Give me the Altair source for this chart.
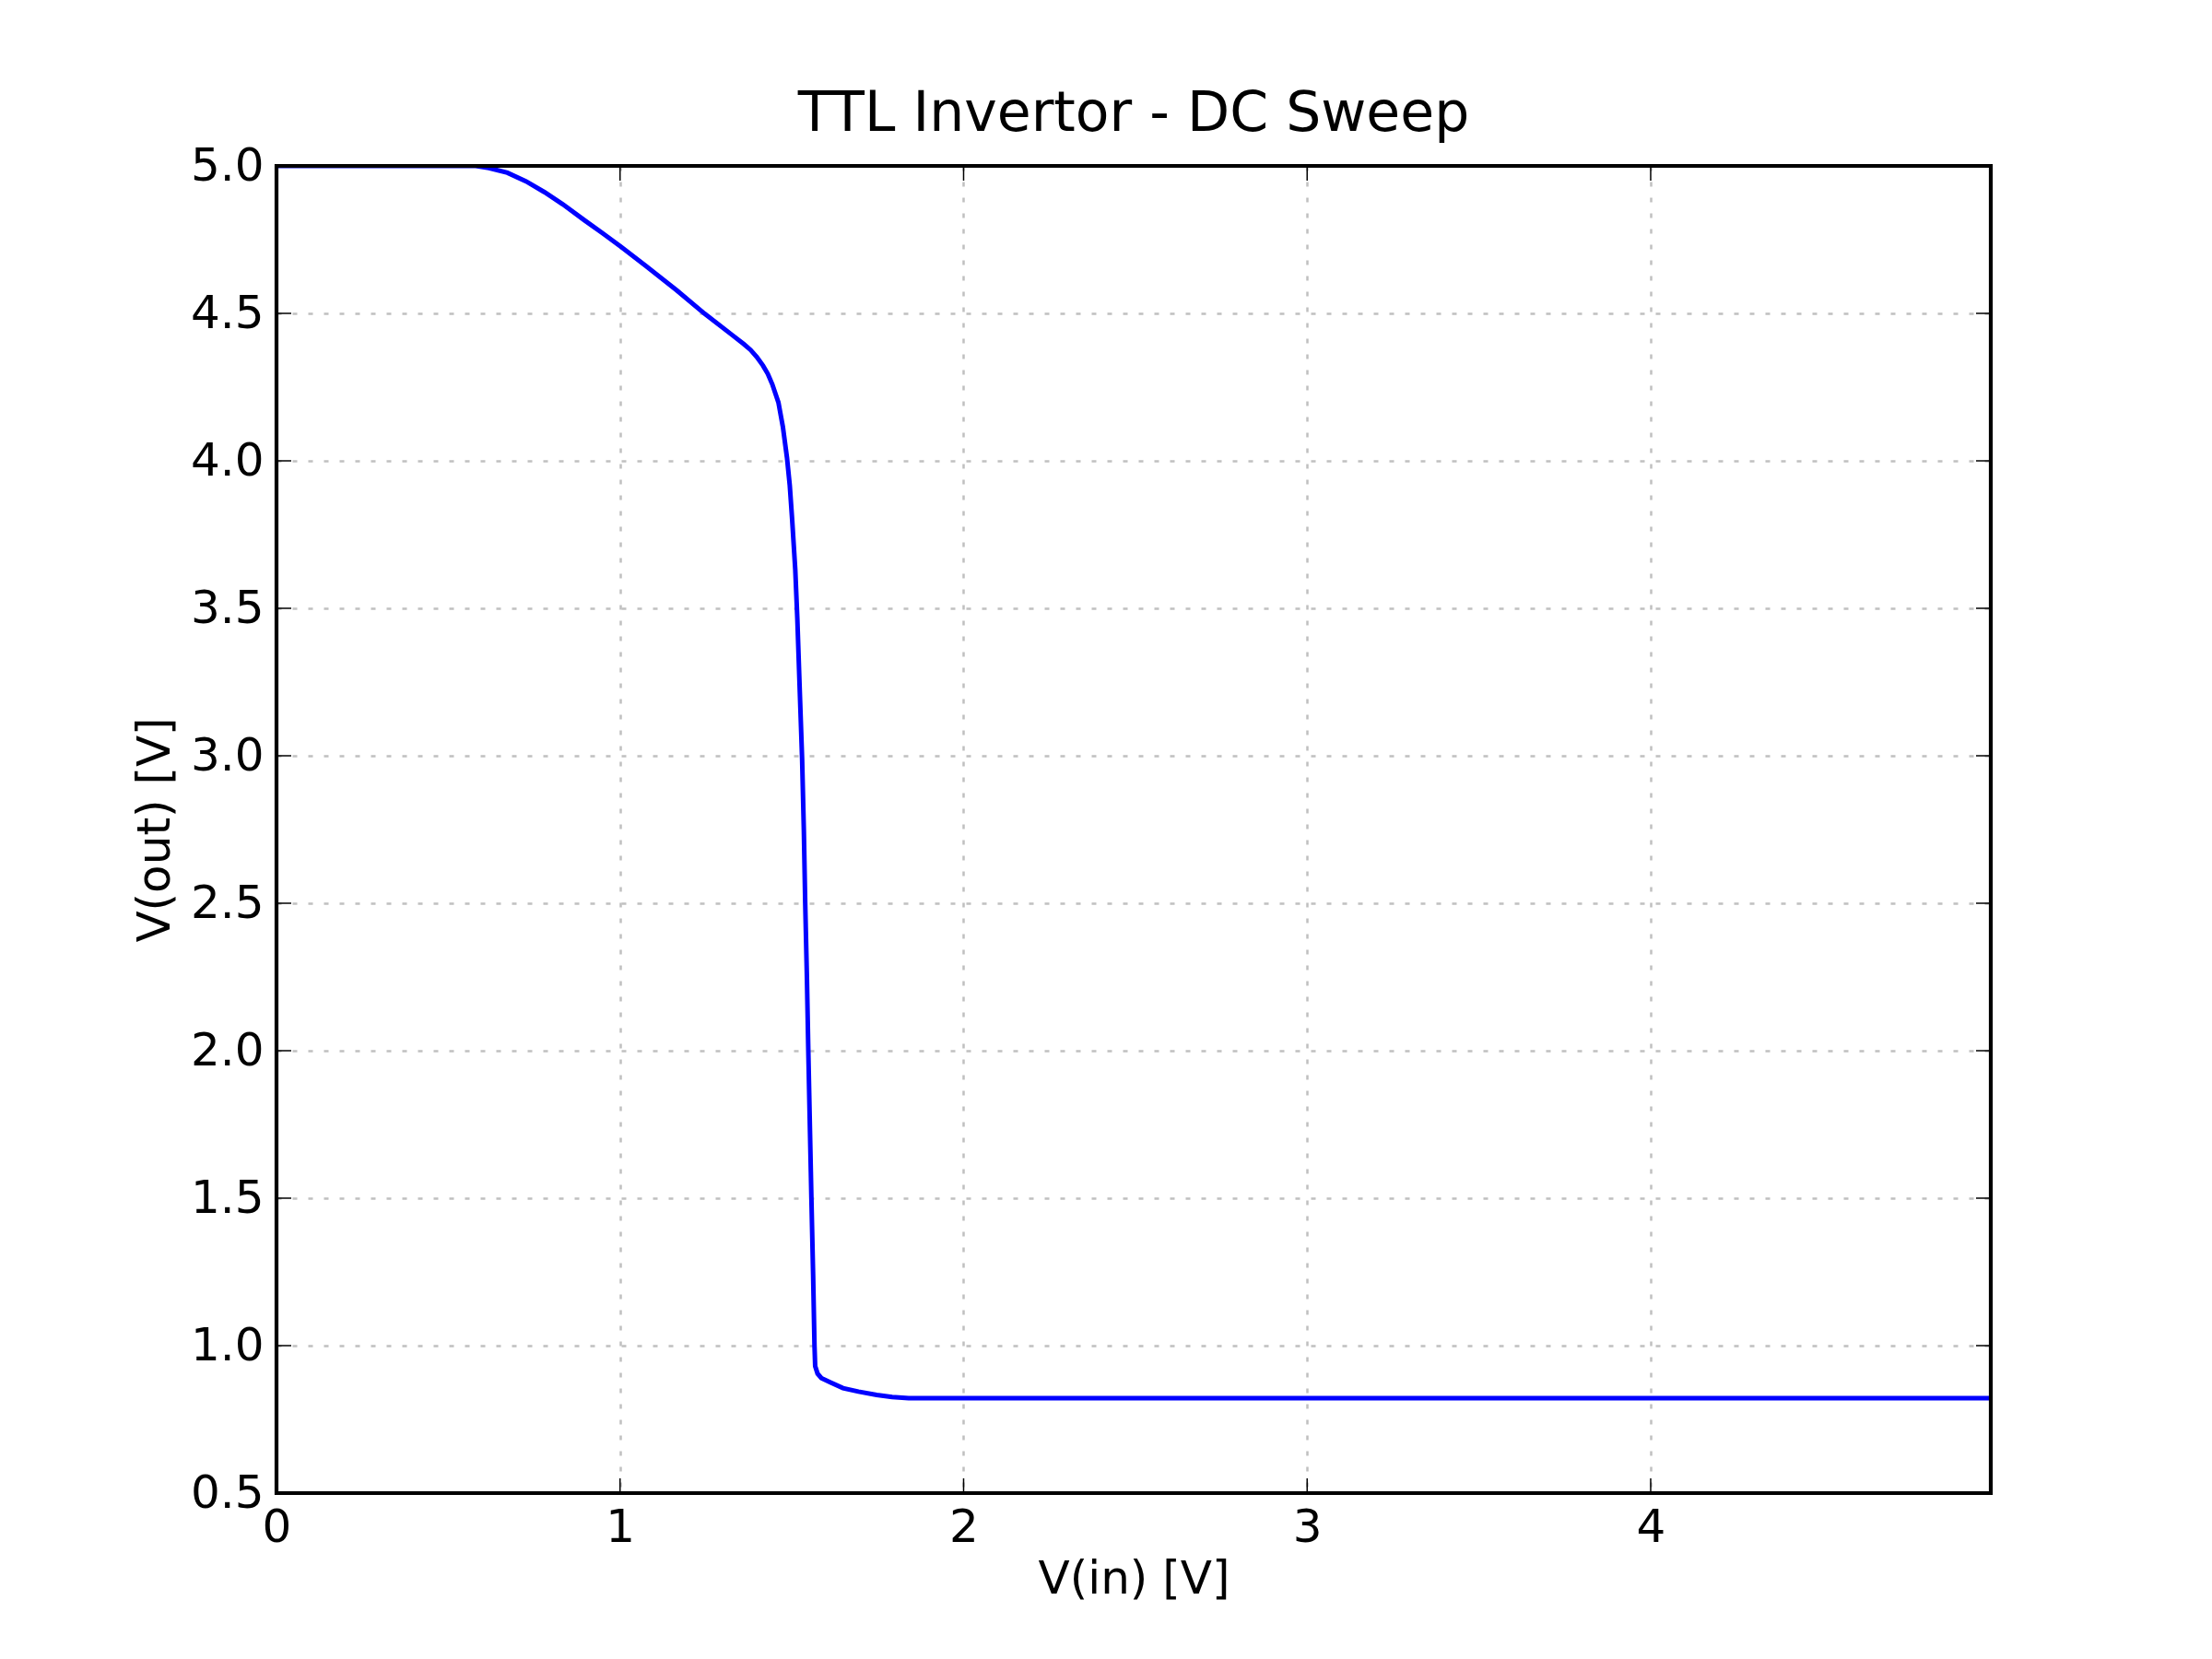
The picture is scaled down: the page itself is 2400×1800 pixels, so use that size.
import altair as alt
import pandas as pd

# ---- data ----
vin = [0.0, 0.3, 0.58, 0.618, 0.672, 0.726, 0.780, 0.833, 0.896, 0.950, 1.001,
       1.075, 1.165, 1.246, 1.326, 1.360, 1.380, 1.398, 1.416, 1.430, 1.443,
       1.461, 1.474, 1.486, 1.494, 1.501, 1.510, 1.516, 1.523, 1.530, 1.535,
       1.539, 1.544, 1.548, 1.553, 1.557, 1.562, 1.566, 1.568, 1.575, 1.586,
       1.613, 1.649, 1.694, 1.747, 1.792, 1.84, 2.0, 3.0, 4.0, 4.99]
vout = [5.0, 5.0, 5.0, 4.993, 4.977, 4.948, 4.911, 4.870, 4.816, 4.771, 4.727,
        4.661, 4.578, 4.499, 4.427, 4.396, 4.376, 4.352, 4.323, 4.295, 4.26,
        4.198, 4.115, 4.01, 3.917, 3.80, 3.632, 3.466, 3.225, 2.988, 2.747,
        2.50, 2.245, 2.00, 1.72, 1.50, 1.24, 1.00, 0.93, 0.905, 0.89,
        0.875, 0.856, 0.844, 0.833, 0.826, 0.822, 0.822, 0.822, 0.822, 0.822]
x_ticks = [0, 1, 2, 3, 4]
y_ticks = [0.5, 1.0, 1.5, 2.0, 2.5, 3.0, 3.5, 4.0, 4.5, 5.0]
title_text = "TTL Invertor - DC Sweep"
x_title = "V(in) [V]"
y_title = "V(out) [V]"

FONT = "DejaVu Sans"

df = pd.DataFrame({"vin": vin, "vout": vout})
xt = pd.DataFrame({"t": x_ticks})
yt = pd.DataFrame({"t": y_ticks})
frame_df = pd.DataFrame({"k": [0]})

xscale = alt.Scale(domain=[0, 4.99], nice=False, zero=False)
yscale = alt.Scale(domain=[0.5, 5.0], nice=False, zero=False)

common_axis = dict(
    grid=True, gridColor="#c0c0c0", gridDash=[5, 12], gridWidth=2.5,
    ticks=False, domain=False,
    labelFontSize=50, labelFont=FONT, labelColor="black",
    labelFlush=False, labelOverlap=False,
    titleFontSize=50, titleFont=FONT, titleFontWeight="normal", titleColor="black",
)
x_axis = alt.Axis(values=x_ticks, format="d", title=x_title, labelPadding=12,
                  titlePadding=6, **common_axis)
y_axis = alt.Axis(values=y_ticks, format=".1f", title=y_title, labelPadding=14,
                  titlePadding=13, **common_axis)

line = alt.Chart(df).mark_line(color="#0000ff", strokeWidth=5, clip=True).encode(
    x=alt.X("vin:Q", scale=xscale, axis=x_axis),
    y=alt.Y("vout:Q", scale=yscale, axis=y_axis),
)

TL = 16
TW = 1.5
ytick_l = alt.Chart(yt).mark_rule(color="black", strokeWidth=TW).encode(
    y=alt.Y("t:Q", scale=yscale, axis=y_axis), x=alt.value(0), x2=alt.value(TL))
ytick_r = alt.Chart(yt).mark_rule(color="black", strokeWidth=TW, xOffset=-TL).encode(
    y=alt.Y("t:Q", scale=yscale, axis=y_axis), x=alt.value("width"), x2=alt.value("width"))
xtick_b = alt.Chart(xt).mark_rule(color="black", strokeWidth=TW, yOffset=-TL).encode(
    x=alt.X("t:Q", scale=xscale, axis=x_axis), y=alt.value("height"), y2=alt.value("height"))
xtick_t = alt.Chart(xt).mark_rule(color="black", strokeWidth=TW).encode(
    x=alt.X("t:Q", scale=xscale, axis=x_axis), y=alt.value(0), y2=alt.value(TL))

frame = alt.Chart(frame_df).mark_rect(fillOpacity=0, stroke="black", strokeWidth=4.2).encode(
    x=alt.value(0), x2=alt.value("width"), y=alt.value(0), y2=alt.value("height"))

chart = alt.layer(line, ytick_l, ytick_r, xtick_b, xtick_t, frame).properties(
    width=1860, height=1440,
    autosize=alt.AutoSizeParams(type="none"),
    padding={"left": 292, "top": 172, "right": 232, "bottom": 172},
    title=alt.TitleParams(title_text, fontSize=60, font=FONT, fontWeight="normal",
                          color="black", anchor="middle", frame="group", offset=0),
).configure_view(strokeWidth=0).configure(background="white")

chart.save("out.html", embed_options={"renderer": "svg", "actions": False})
